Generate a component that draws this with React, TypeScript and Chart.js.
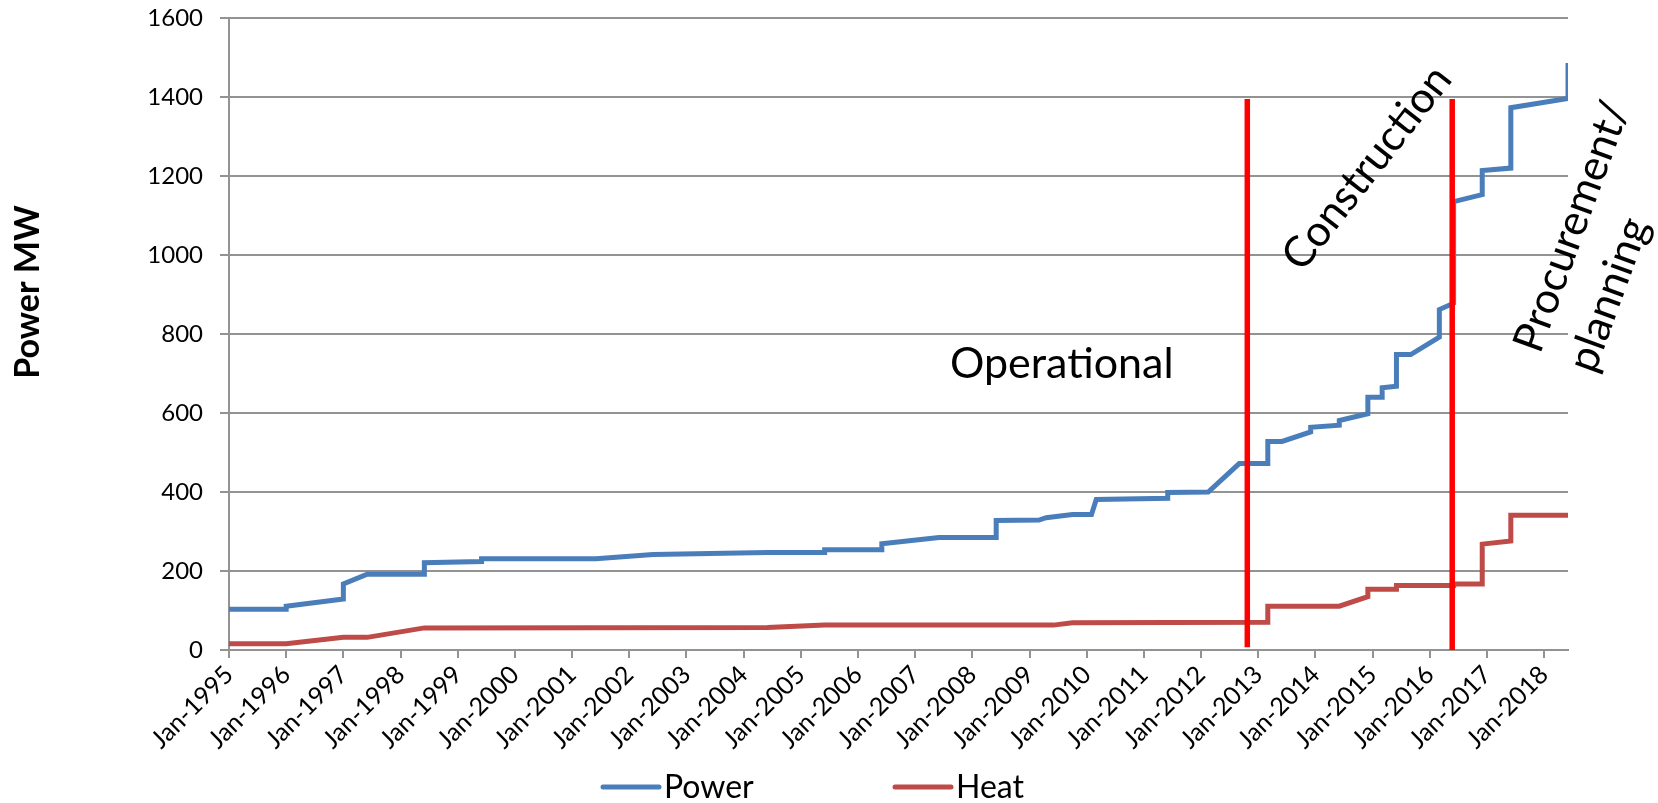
import React, { useEffect, useRef } from 'react';
import { Chart, registerables } from 'chart.js';

Chart.register(...registerables);

// ---------- data ----------
const YEAR_LABELS = [
  'Jan-1995', 'Jan-1996', 'Jan-1997', 'Jan-1998', 'Jan-1999', 'Jan-2000',
  'Jan-2001', 'Jan-2002', 'Jan-2003', 'Jan-2004', 'Jan-2005', 'Jan-2006',
  'Jan-2007', 'Jan-2008', 'Jan-2009', 'Jan-2010', 'Jan-2011', 'Jan-2012',
  'Jan-2013', 'Jan-2014', 'Jan-2015', 'Jan-2016', 'Jan-2017', 'Jan-2018',
];
const MONTHS_PER_TICK = 12;
const X_MAX_MONTH = 281; // months after Jan-1995 (about Jun-2018)

// x = months after Jan-1995
const POWER_MONTHS = [
  0, 12, 12, 24, 24, 29, 41, 41, 53, 53, 77, 89, 113, 125, 125, 137, 137, 149,
  161, 161, 170, 171.5, 177, 181, 182, 197, 197, 205.5, 212, 218, 218, 221, 227,
  227, 233, 233, 239, 239, 242, 242, 245, 245, 248, 254, 254, 257, 257, 263, 263,
  269, 269, 281, 281,
];
const POWER_MW = [
  103, 103, 111, 129, 167, 192, 192, 221, 224, 231, 231, 242, 247, 247, 254, 254, 269, 285,
  285, 328, 329, 335, 343, 343, 381, 384, 399, 400, 472, 472, 528, 528, 552,
  564, 569, 581, 598, 640, 640, 664, 668, 748, 748, 792, 862, 878, 1135, 1153, 1214,
  1220, 1373, 1396, 1486,
];

const HEAT_MONTHS = [
  0, 12, 24, 29, 41, 113, 125, 173, 177, 218, 218, 233, 239, 239, 245, 245, 257, 257,
  263, 263, 269, 269, 281,
];
const HEAT_MW = [
  16, 16, 32, 32, 56, 57, 63, 63, 69, 70, 111, 111, 135, 154, 154, 163, 163, 167,
  167, 268, 276, 341, 341,
];

// phase boundaries (vertical red lines)
const PHASE_MONTHS = [213.7, 256.7];
const PHASE_BOTTOM_MW = [7, 0];
const PHASE_TOP_MW = 1395;

const SERIES_NAMES = ['Power', 'Heat'];
const PHASE_LABELS = ['Operational', 'Construction', 'Procurement/', 'planning'];
const Y_TITLE = 'Power MW';

// ---------- styles ----------
const POWER_COLOR = '#4A7EBB';
const HEAT_COLOR = '#BE4B48';
const PHASE_COLOR = '#FF0000';
const GRID_COLOR = '#939393';
const FONT = 'Lato';
const Y_TICK_SIZE = 24;
const X_TICK_SIZE = 25;

const W = 1658;
const H = 803;

const overlayPlugin = {
  id: 'overlayText',
  afterDraw(chart: any) {
    const ctx = chart.ctx as CanvasRenderingContext2D;
    ctx.save();
    ctx.fillStyle = '#000';

    // y-axis title
    ctx.save();
    ctx.font = `bold 34px ${FONT}`;
    ctx.translate(28, 292);
    ctx.rotate(-Math.PI / 2);
    ctx.textAlign = 'center';
    ctx.textBaseline = 'middle';
    ctx.fillText(Y_TITLE, 0, 0);
    ctx.restore();

    // phase labels
    ctx.font = `43px ${FONT}`;
    ctx.textAlign = 'left';
    ctx.textBaseline = 'alphabetic';
    ctx.fillText(PHASE_LABELS[0], 950, 378);

    ctx.save();
    ctx.translate(1367, 168);
    ctx.rotate((-52 * Math.PI) / 180);
    ctx.textAlign = 'center';
    ctx.textBaseline = 'middle';
    ctx.fillText(PHASE_LABELS[1], 0, 0);
    ctx.restore();

    ctx.save();
    ctx.translate(1540, 355);
    ctx.rotate((-70 * Math.PI) / 180);
    ctx.textAlign = 'left';
    ctx.textBaseline = 'alphabetic';
    ctx.fillText(PHASE_LABELS[2], 0, 0);
    ctx.fillText(PHASE_LABELS[3], 0, 58);
    ctx.restore();

    // legend
    const items = [
      { name: SERIES_NAMES[0], color: POWER_COLOR, x: 603 },
      { name: SERIES_NAMES[1], color: HEAT_COLOR, x: 895 },
    ];
    ctx.font = `32px ${FONT}`;
    ctx.textBaseline = 'alphabetic';
    for (const it of items) {
      ctx.strokeStyle = it.color;
      ctx.lineWidth = 5;
      ctx.lineCap = 'round';
      ctx.beginPath();
      ctx.moveTo(it.x, 787);
      ctx.lineTo(it.x + 56, 787);
      ctx.stroke();
      ctx.fillStyle = '#000';
      ctx.fillText(it.name, it.x + 61, 798);
    }
    ctx.restore();
  },
};

export default function App() {
  const canvasRef = useRef<HTMLCanvasElement | null>(null);

  useEffect(() => {
    let chart: Chart | null = null;
    let cancelled = false;

    const build = () => {
      if (cancelled || !canvasRef.current) return;
      const toPts = (xs: number[], ys: number[]) => xs.map((x, i) => ({ x, y: ys[i] }));
      const phaseSets = PHASE_MONTHS.map((m, i) => ({
        label: 'phase' + i,
        data: [
          { x: m, y: PHASE_BOTTOM_MW[i] },
          { x: m, y: PHASE_TOP_MW },
        ],
        borderColor: PHASE_COLOR,
        borderWidth: 5.5,
        pointRadius: 0,
        order: 0,
        borderCapStyle: 'butt',
      }));

      chart = new Chart(canvasRef.current, {
        type: 'line',
        data: {
          datasets: [
            ...phaseSets,
            {
              label: SERIES_NAMES[0],
              data: toPts(POWER_MONTHS, POWER_MW),
              borderColor: POWER_COLOR,
              borderWidth: 5,
              pointRadius: 0,
              tension: 0,
              order: 1,
              borderJoinStyle: 'miter',
            },
            {
              label: SERIES_NAMES[1],
              data: toPts(HEAT_MONTHS, HEAT_MW),
              borderColor: HEAT_COLOR,
              borderWidth: 5,
              pointRadius: 0,
              tension: 0,
              order: 2,
              borderJoinStyle: 'miter',
            },
          ] as any,
        },
        options: {
          responsive: false,
          animation: false,
          events: [],
          layout: { padding: { top: 18, right: 90, left: 0, bottom: 0 } },
          plugins: {
            legend: { display: false },
            tooltip: { enabled: false },
            title: { display: false },
          },
          scales: {
            x: {
              type: 'linear',
              min: 0,
              max: X_MAX_MONTH,
              afterBuildTicks: (s: any) => {
                s.ticks = YEAR_LABELS.map((_, i) => ({ value: i * MONTHS_PER_TICK }));
              },
              afterFit: (s: any) => {
                s.height = H - 650;
              },
              ticks: {
                autoSkip: false,
                maxRotation: 45,
                minRotation: 45,
                color: '#000',
                padding: 2,
                font: { family: FONT, size: X_TICK_SIZE },
                callback: (v: any) => YEAR_LABELS[Math.round(Number(v) / MONTHS_PER_TICK)] ?? '',
              },
              grid: {
                drawOnChartArea: false,
                drawTicks: true,
                tickLength: 8,
                color: GRID_COLOR,
                lineWidth: 2,
              },
              border: { color: GRID_COLOR, width: 2 },
            },
            y: {
              min: 0,
              max: 1600,
              afterFit: (s: any) => {
                s.width = 229;
                s.paddingTop = 0;
                s.paddingBottom = 0;
              },
              ticks: {
                stepSize: 200,
                color: '#000',
                padding: 17,
                font: { family: FONT, size: Y_TICK_SIZE },
                callback: (v: any) => String(v),
              },
              grid: {
                color: GRID_COLOR,
                lineWidth: 2,
                tickLength: 9,
                drawTicks: true,
              },
              border: { color: GRID_COLOR, width: 2 },
            },
          },
        },
        plugins: [overlayPlugin],
      } as any);
    };

    const fontsReady = (document as any).fonts
      ? Promise.all([
          (document as any).fonts.load(`24px ${FONT}`),
          (document as any).fonts.load(`bold 34px ${FONT}`),
        ]).catch(() => null)
      : Promise.resolve(null);
    fontsReady.then(build);

    return () => {
      cancelled = true;
      if (chart) chart.destroy();
    };
  }, []);

  return (
    <div style={{ position: 'fixed', left: 0, top: 0, width: W, height: H, background: '#fff' }}>
      <canvas ref={canvasRef} width={W} height={H} style={{ display: 'block' }} />
    </div>
  );
}
